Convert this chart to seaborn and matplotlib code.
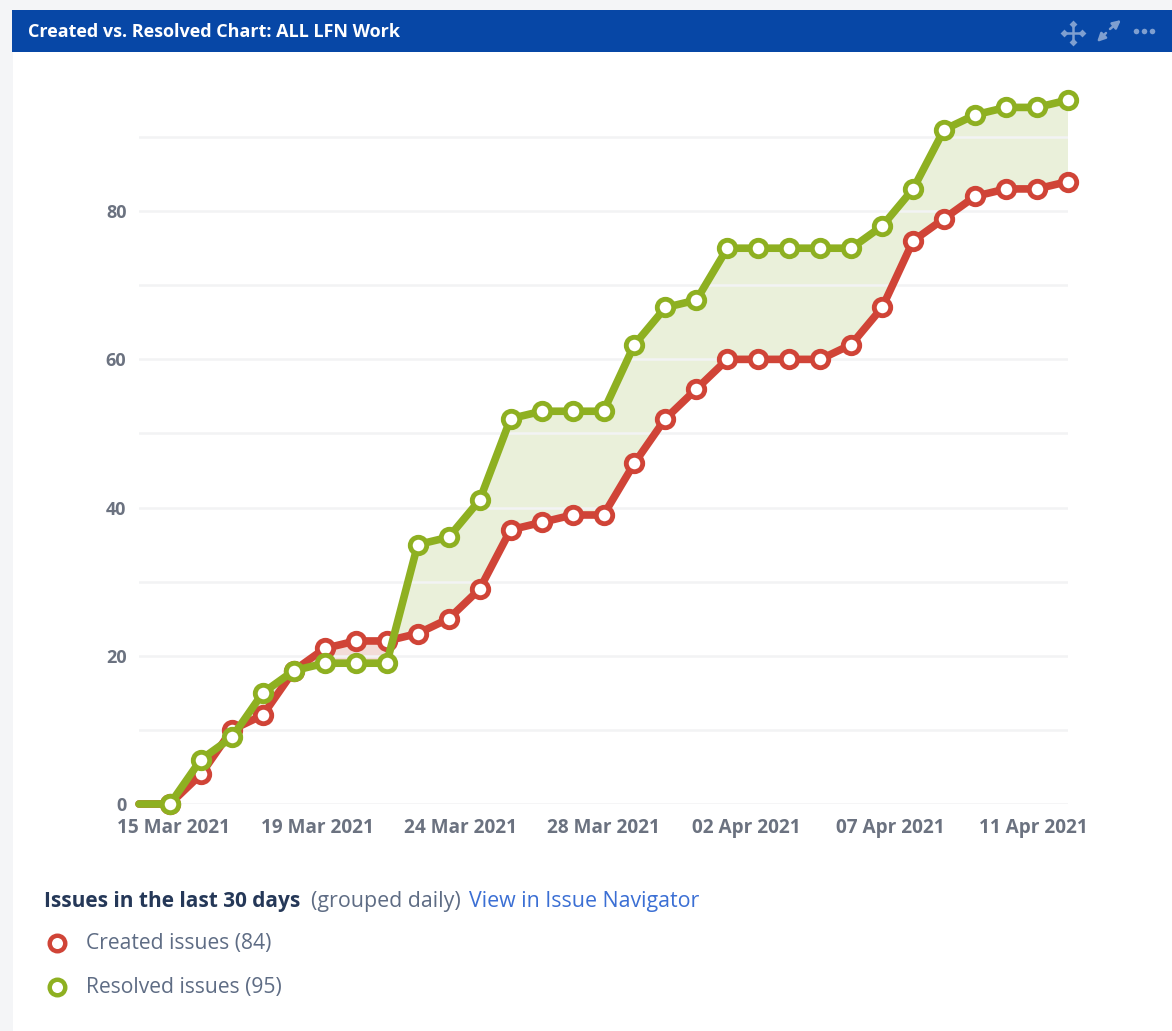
import numpy as np
import pandas as pd
import matplotlib.pyplot as plt
import seaborn as sns

days = list(range(-1, 30))
created = [0, 0, 4, 10, 12, 18, 21, 22, 22, 23, 25, 29, 37, 38, 39, 39, 46, 52, 56, 60, 60,
           60, 60, 62, 67, 76, 79, 82, 83, 83, 84]
resolved = [0, 0, 6, 9, 15, 18, 19, 19, 19, 35, 36, 41, 52, 53, 53, 53, 62, 67, 68, 75, 75,
            75, 75, 75, 78, 83, 91, 93, 94, 94, 95]
date_labels = ["15 Mar 2021", "19 Mar 2021", "24 Mar 2021", "28 Mar 2021",
               "02 Apr 2021", "07 Apr 2021", "11 Apr 2021"]

RED = "#d04437"
GREEN = "#8eb021"
BLUE = "#0747a6"
W, H = 1172, 1031

sns.set_theme(style="white")
plt.rcParams["font.family"] = ["Open Sans", "DejaVu Sans"]

df = pd.DataFrame({"day": days, "created": created, "resolved": resolved})
marks = df[df["day"] >= 0]

fig = plt.figure(figsize=(W / 100, H / 100), dpi=100, facecolor="#f4f5f7")

# page furniture in pixel coordinates
bg = fig.add_axes([0, 0, 1, 1])
bg.set_xlim(0, W)
bg.set_ylim(H, 0)
bg.axis("off")
bg.fill_between([13, W], 52, H, color="white", lw=0)
bg.fill_between([12, W], 10, 52, color=BLUE, lw=0)
bg.text(28, 32, "Created vs. Resolved Chart: ALL LFN Work", color="white", fontsize=13,
        fontweight="bold", va="center")

icon = "#7f9fd0"
bg.plot([1064, 1082], [33, 33], color=icon, lw=1.8)
bg.plot([1073, 1073], [24, 42], color=icon, lw=1.8)
bg.scatter([1064, 1082, 1073, 1073], [33, 33, 24, 42], marker="D", s=16, color=icon, lw=0)
for x0, y0, x1, y1 in [(1106, 33, 1097, 42), (1110, 29, 1121, 20)]:
    bg.annotate("", xy=(x1, y1), xytext=(x0, y0),
                arrowprops=dict(arrowstyle="-|>", color=icon, lw=1.8, shrinkA=0, shrinkB=0))
bg.scatter([1136, 1144, 1152], [31, 31, 31], s=16, color=icon, lw=0)

# chart
left, right, top, bottom = 139, 1068, 100, 804
ax = fig.add_axes([left / W, 1 - bottom / H, (right - left) / W, (bottom - top) / H])
ax.patch.set_alpha(0)
ax.fill_between(df["day"], df["created"], df["resolved"], where=df["resolved"] >= df["created"],
                interpolate=True, color="#eaf0da", lw=0, zorder=1)
ax.fill_between(df["day"], df["created"], df["resolved"], where=df["resolved"] <= df["created"],
                interpolate=True, color="#f3dcd8", lw=0, zorder=1)

sns.lineplot(data=df, x="day", y="created", color=RED, lw=5.5, ax=ax, zorder=3, clip_on=False,
             solid_joinstyle="round")
sns.scatterplot(data=marks, x="day", y="created", s=140, facecolor="white", edgecolor=RED,
                linewidth=3.5, ax=ax, zorder=4, clip_on=False)
sns.lineplot(data=df, x="day", y="resolved", color=GREEN, lw=5.5, ax=ax, zorder=5, clip_on=False,
             solid_joinstyle="round")
sns.scatterplot(data=marks, x="day", y="resolved", s=140, facecolor="white", edgecolor=GREEN,
                linewidth=3.5, ax=ax, zorder=6, clip_on=False)

ax.set_xlim(-1, 29)
ax.set_ylim(0, 95)
ax.set_xlabel("")
ax.set_ylabel("")
ax.set_yticks(range(0, 81, 20))
ax.set_yticks(range(10, 91, 20), minor=True)
ax.set_xticks(np.linspace(0.12, 27.88, len(date_labels)))
ax.set_xticklabels(date_labels)
ax.grid(True, axis="y", which="both", color="#f2f3f4", lw=1.8)
ax.set_axisbelow(False)
ax.tick_params(axis="both", which="both", length=0)
ax.tick_params(axis="x", pad=10, labelsize=13.7, labelcolor="#6b7280")
ax.tick_params(axis="y", pad=9, labelsize=13, labelcolor="#6b7280")
for lab in ax.get_xticklabels() + ax.get_yticklabels():
    lab.set_fontweight("bold")
sns.despine(ax=ax, left=True, bottom=True)

# legend block
bg.text(44, 902, "Issues in the last 30 days", color="#253858", fontsize=15, fontweight="bold",
        va="center")
bg.text(311, 902, "(grouped daily)", color="#5e6c84", fontsize=15.4, va="center")
bg.text(469, 902, "View in Issue Navigator", color="#3b6fd4", fontsize=15.4, va="center")
bg.scatter([57], [943], s=125, facecolor="white", edgecolor=RED, linewidth=3.2)
bg.scatter([57], [987], s=125, facecolor="white", edgecolor=GREEN, linewidth=3.2)
bg.text(86, 943, "Created issues (84)", color="#5e6c84", fontsize=15.2, va="center")
bg.text(86, 988, "Resolved issues (95)", color="#5e6c84", fontsize=15.2, va="center")

fig.savefig("out.png", dpi=100, facecolor=fig.get_facecolor())
